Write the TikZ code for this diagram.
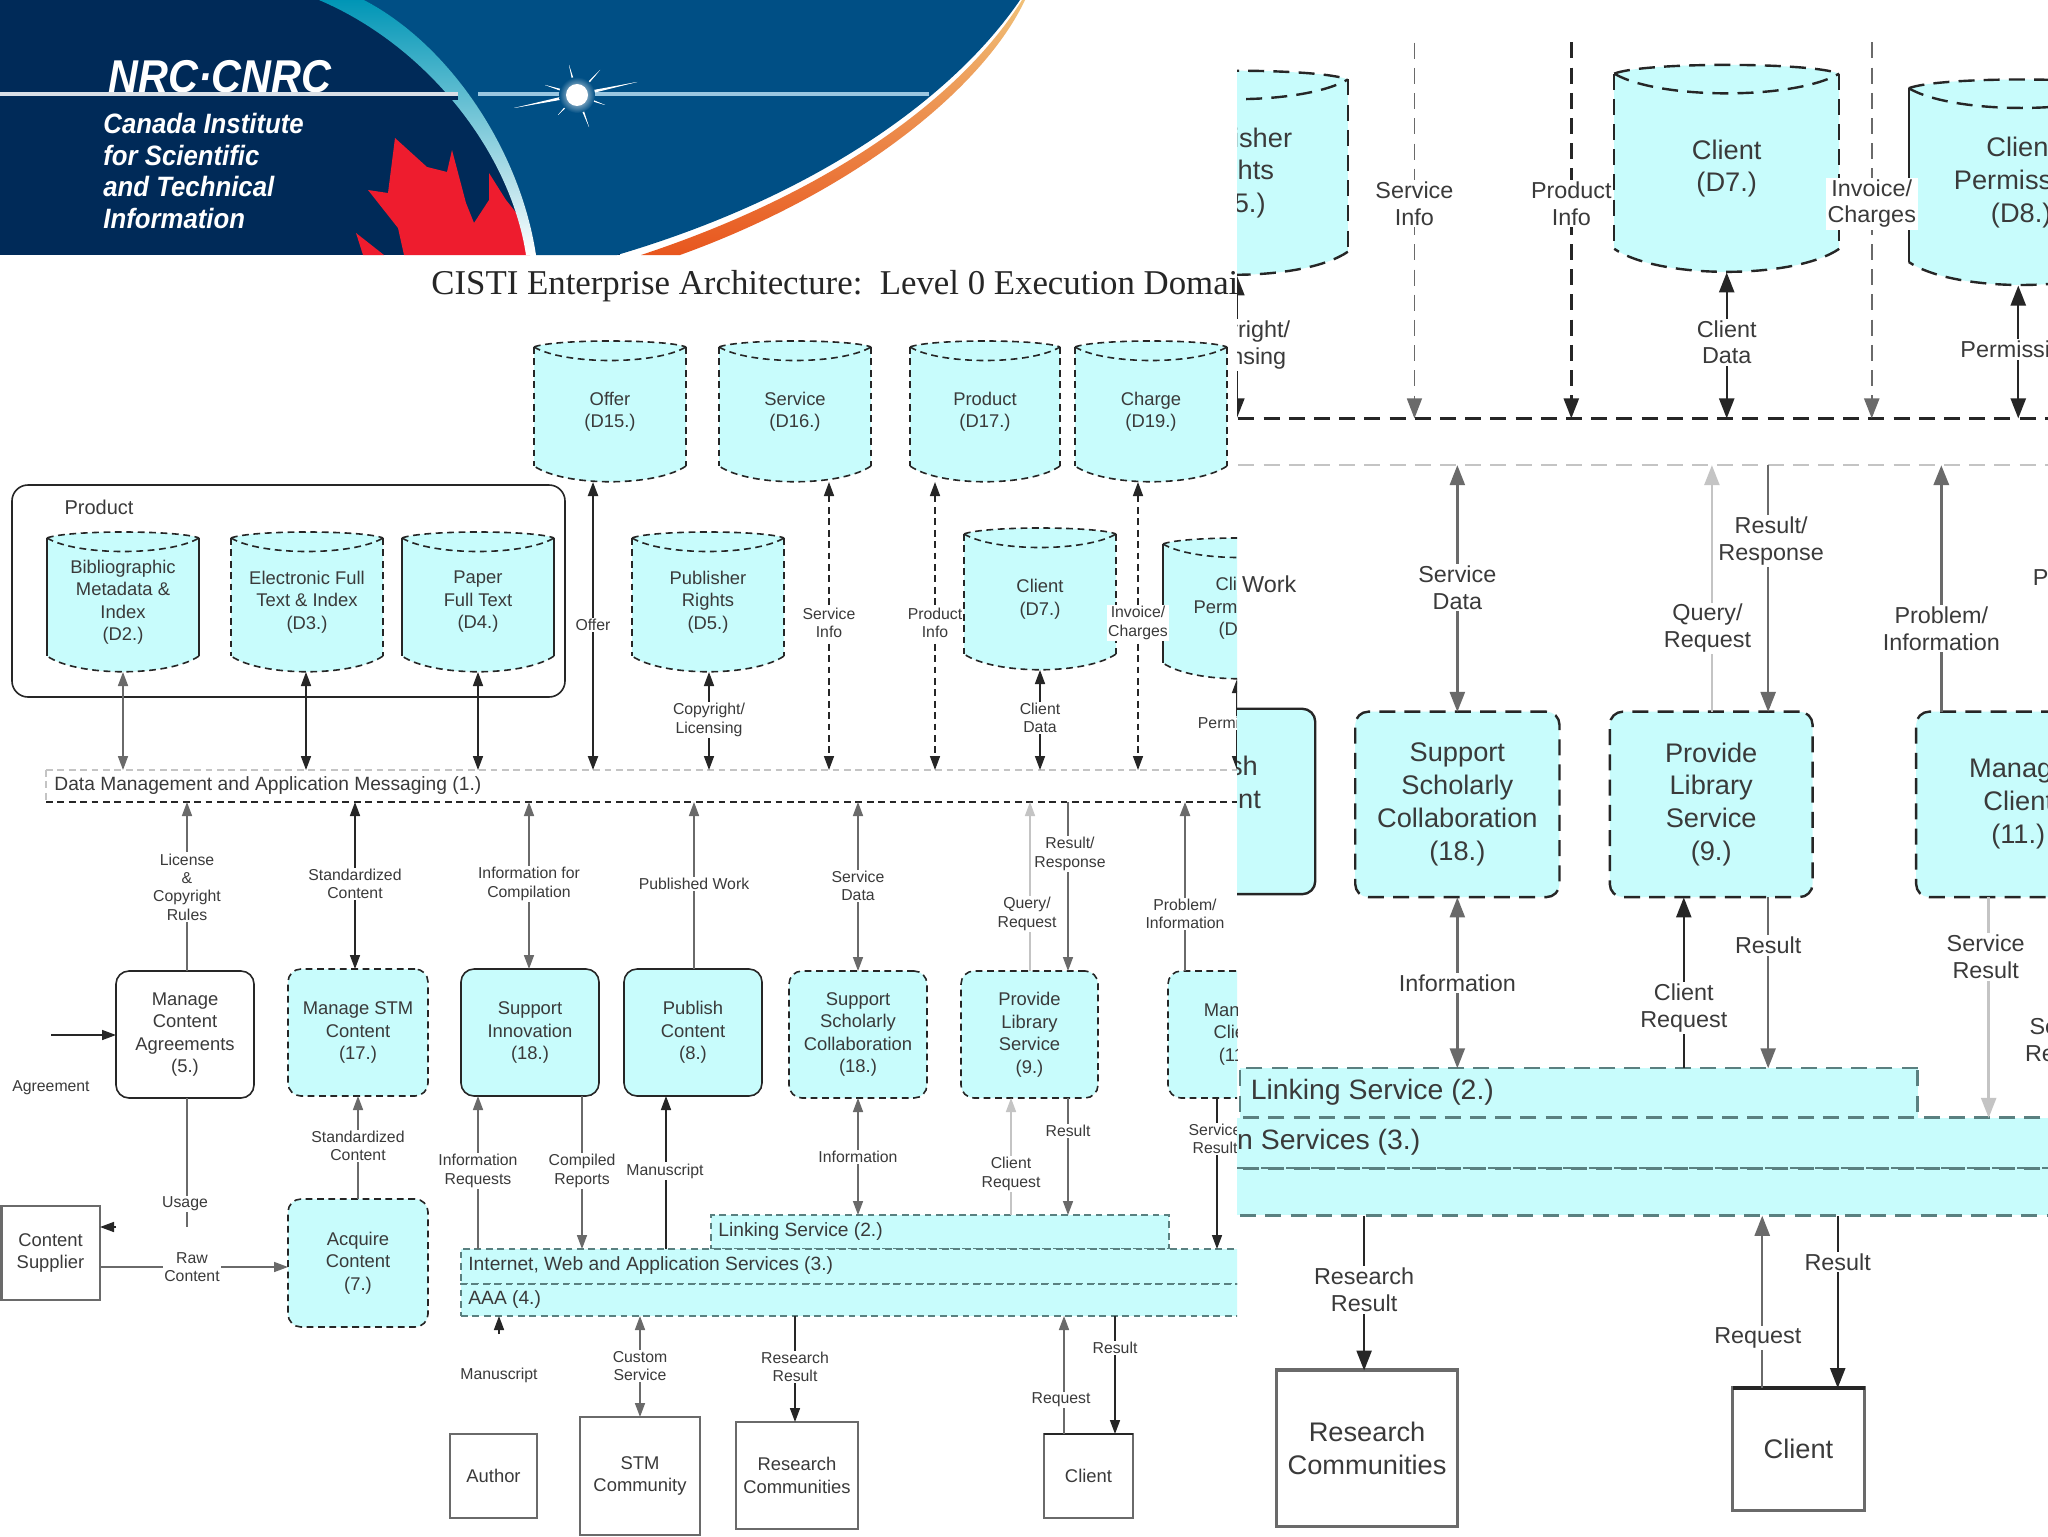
\documentclass[tikz,border=0pt]{standalone}
\usepackage{fontspec}
\usepackage{graphicx}
\setmainfont{Liberation Sans}
\newfontfamily\serifT{Liberation Serif}
\usetikzlibrary{arrows.meta,calc}
\definecolor{cy}{HTML}{C8FCFC}
\definecolor{navy}{HTML}{002A58}
\definecolor{blu}{HTML}{004F85}
\definecolor{ink}{HTML}{262626}
\definecolor{mid}{HTML}{6A6A6A}
\definecolor{pale}{HTML}{C4C4C4}
\definecolor{teal}{HTML}{5A8080}
\definecolor{txt}{HTML}{3A3A3A}
\definecolor{nrcred}{HTML}{EE1C2E}
\definecolor{orngA}{HTML}{E8561E}
\definecolor{orngB}{HTML}{F0C078}
\tikzset{
 x=0.5pt,y=-0.5pt,
 lw/.style={line width=\lwA},
 dsh/.style={dash pattern=on \dA off \dB},
 solidbox/.style={draw=ink,lw},
 dashbox/.style={draw=ink,lw,dsh},
 base/.style={inner sep=0pt,outer sep=0pt,align=center,text=txt,font=\fontsize{9.2}{11.25}\selectfont},
 proc/.style={base,rounded corners=6.5pt},
 actor/.style={base,draw=mid,lw,fill=white},
 barbox/.style={inner sep=0pt,outer sep=0pt,fill=cy},
 bartext/.style={anchor=west,inner sep=0pt,text=txt,font=\fontsize{9.6}{11.25}\selectfont},
 lab/.style={inner sep=0.6pt,outer sep=0pt,align=center,fill=white,text=txt,font=\fontsize{7.9}{9.2}\selectfont},
 dn/.style={-{Triangle[width=\aw,length=\al]},lw},
 up/.style={{Triangle[width=\aw,length=\al]}-,lw},
 both/.style={{Triangle[width=\aw,length=\al]}-{Triangle[width=\aw,length=\al]},lw},
}
% box node from pixel edges
\newcommand\boxN[7]{\node[#6,minimum width={(#3-#2)*0.5pt},minimum height={(#5-#4)*0.5pt}] (#1) at ({(#2+#3)/2},{(#4+#5)/2}) {#7};}
% cylinder: name x1 x2 y1 y2 text style of the sides
\newcommand\cylN[7]{%
 \pgfmathsetmacro\cw{#3-#2}\pgfmathsetmacro\ca{#2+.13*\cw}\pgfmathsetmacro\cb{#3-.13*\cw}%
 \pgfmathsetmacro\cc{#2+.2*\cw}\pgfmathsetmacro\cd{#3-.2*\cw}%
 \fill[cy] (#2,#4+6) .. controls (\ca,#4-2) and (\cb,#4-2) .. (#3,#4+6) -- (#3,#5-16) .. controls (\cd,#5+5) and (\cc,#5+5) .. (#2,#5-16) -- cycle;
 \draw[dashbox] (#2,#4+6) .. controls (\ca,#4-2) and (\cb,#4-2) .. (#3,#4+6);
 \draw[dashbox] (#3,#5-16) .. controls (\cd,#5+5) and (\cc,#5+5) .. (#2,#5-16);
 \draw[dashbox] (#2,#4+6) .. controls (\cc,#4+24) and (\cd,#4+24) .. (#3,#4+6);
 \draw[#7] (#2,#4+6) -- (#2,#5-16);
 \draw[#7] (#3,#4+6) -- (#3,#5-16);
 \boxN{#1}{#2}{#3}{#4}{#5}{base}{#6}}
% vertical connector at pixel x between two anchors
\newcommand\conn[4]{\draw[#1] (#2,0 |- #3) -- (#2,0 |- #4);}
\newcommand\labN[4]{\node[lab] (#1) at (#2,#3) {#4};}

\newcommand\diagramBody{%
 % product frame
 \boxN{frame}{12}{565}{485}{697}{draw=ink,lw,rounded corners=8pt}{}
 \node[anchor=center,inner sep=0pt,text=txt,font=\fontsize{10}{12}\selectfont] (frametitle) at (99,507) {Product};
 % stores
 \cylN{dtwo}{47}{199}{532}{672}{Bibliographic\\Metadata \&\\Index\\(D2.)}{solidbox}
 \cylN{dthree}{231}{383}{532}{672}{Electronic Full\\Text \& Index\\(D3.)}{dashbox}
 \cylN{dfour}{402}{554}{532}{672}{Paper\\Full Text\\(D4.)}{solidbox}
 \cylN{offer}{534}{686}{341}{482}{Offer\\(D15.)}{dashbox}
 \cylN{service}{719}{871}{341}{482}{Service\\(D16.)}{dashbox}
 \cylN{product}{910}{1060}{341}{482}{Product\\(D17.)}{dashbox}
 \cylN{charge}{1075}{1227}{341}{482}{Charge\\(D19.)}{dashbox}
 \cylN{pubrights}{632}{784}{532}{672}{Publisher\\Rights\\(D5.)}{dashbox}
 \cylN{client}{964}{1116}{528}{670}{Client\\(D7.)}{dashbox}
 \cylN{perm}{1163}{1315}{538}{679}{Client\\Permission\\(D8.)}{solidbox}
 % data bar
 \boxN{databar}{46}{1320}{770}{802}{inner sep=0pt,outer sep=0pt,fill=white}{}
 \draw[draw=\barT,lw,dsh] (databar.north west) -- (databar.north east);
 \draw[draw=\barB,lw,dsh] (databar.south west) -- (databar.south east);
 \draw[draw=pale,lw,dsh] (databar.north west) -- (databar.south west);
 \node[bartext] (datatext) at (54,786) {Data Management and Application Messaging (1.)};
 % processes
 \boxN{manageca}{116}{254}{971}{1098}{proc,draw=ink,lw,fill=white}{Manage\\Content\\Agreements\\(5.)}
 \boxN{managestm}{288}{428}{969}{1096}{proc,dashbox,fill=cy}{Manage STM\\Content\\(17.)}
 \boxN{supinnov}{461}{599}{969}{1096}{proc,solidbox,fill=cy}{Support\\Innovation\\(18.)}
 \boxN{publish}{624}{762}{969}{1096}{proc,solidbox,fill=cy}{Publish\\Content\\(8.)}
 \boxN{supschol}{789}{927}{971}{1098}{proc,dashbox,fill=cy}{Support\\Scholarly\\Collaboration\\(18.)}
 \boxN{library}{961}{1098}{971}{1098}{proc,dashbox,fill=cy}{Provide\\Library\\Service\\(9.)}
 \boxN{manageclient}{1168}{1306}{971}{1098}{proc,dashbox,fill=cy}{Manage\\Client\\(11.)}
 \boxN{acquire}{288}{428}{1199}{1327}{proc,draw=ink,lw,dsh,fill=cy}{Acquire\\Content\\(7.)}
 % service bars
 \boxN{linking}{711}{1169}{1215}{1249}{barbox,draw=teal,lw,dsh}{}
 \boxN{internet}{461}{1320}{1249}{1284}{barbox,draw=teal,lw,dsh}{}
 \boxN{aaa}{461}{1320}{1284}{1316}{barbox,draw=teal,lw,dsh}{}
 \node[bartext] (linktext) at (718,1232) {Linking Service (2.)};
 \node[bartext] (nettext) at (468,1266) {Internet, Web and Application Services (3.)};
 \node[bartext] (aaatext) at (468,1300) {AAA (4.)};
 % external actors
 \boxN{supplier}{1}{100}{1206}{1300}{actor}{Content\\Supplier}
 \draw[draw=mid,line width=1.5pt] (supplier.north west) -- (supplier.south west);
 \boxN{author}{450}{537}{1434}{1518}{actor}{Author}
 \boxN{stm}{580}{700}{1417}{1535}{actor}{STM\\Community}
 \boxN{research}{736}{858}{1422}{1529}{actor,line width=\lwB}{Research\\Communities}
 \boxN{clientbox}{1044}{1133}{1434}{1518}{actor}{Client}
 \draw[draw=ink,line width=\lwB] (clientbox.north west) -- (clientbox.north east);
 % connectors to the data bar
 \conn{both,draw=mid}{123}{dtwo.south}{databar.north}
 \conn{both,draw=ink}{306}{dthree.south}{databar.north}
 \conn{both,draw=ink}{478}{dfour.south}{databar.north}
 \conn{both,draw=ink,line width=\lwB}{593}{offer.south}{databar.north}
 \conn{both,draw=ink}{709}{pubrights.south}{databar.north}
 \conn{both,draw=\srvCol,line width=\srvLw,dsh}{829}{service.south}{databar.north}
 \conn{both,draw=ink,dsh}{935}{product.south}{databar.north}
 \conn{both,draw=ink}{1040}{client.south}{databar.north}
 \conn{both,draw=\srvCol,dsh}{1138}{charge.south}{databar.north}
 \conn{both,draw=ink}{1237}{perm.south}{databar.north}
 % from the data bar to the processes
 \conn{up,draw=mid}{187}{databar.south}{manageca.north}
 \conn{both,draw=ink}{355}{databar.south}{managestm.north}
 \conn{both,draw=mid}{529}{databar.south}{supinnov.north}
 \conn{up,draw=mid}{694}{databar.south}{publish.north}
 \conn{both,draw=mid}{858}{databar.south}{supschol.north}
 \conn{up,draw=pale}{1030}{databar.south}{library.north}
 \conn{dn,draw=mid}{1068}{databar.south}{library.north}
 \conn{up,draw=mid,line width=\lwB}{1185}{databar.south}{manageclient.north}
 % lower connectors
 \coordinate (agreeend) at (51,1035);
 \draw[dn,draw=ink] (agreeend) -- (manageca.west |- agreeend);
 \coordinate (usageend) at (187,1227);
 \draw[draw=mid,lw] (manageca.south -| usageend) -- (usageend);
 \coordinate (usagetip) at (116,1227);
 \draw[dn,draw=ink] (usagetip) -- (supplier.east |- usagetip);
 \coordinate (rawy) at (150,1267);
 \draw[dn,draw=mid] (supplier.east |- rawy) -- (acquire.west |- rawy);
 \conn{up,draw=mid}{358}{managestm.south}{acquire.north}
 \conn{up,draw=mid}{478}{supinnov.south}{internet.north}
 \conn{dn,draw=mid}{582}{supinnov.south}{internet.north}
 \conn{up,draw=ink}{666}{publish.south}{internet.north}
 \conn{both,draw=mid}{858}{supschol.south}{linking.north}
 \conn{up,draw=\crCol}{1011}{library.south}{linking.north}
 \conn{dn,draw=mid}{1068}{library.south}{linking.north}
 \conn{dn,draw=\srCol}{1217}{manageclient.south}{internet.north}
 \coordinate (mstail) at (499,1334);
 \draw[dn,draw=ink] (mstail) -- (mstail |- aaa.south);
 \conn{both,draw=mid}{640}{aaa.south}{stm.north}
 \conn{dn,draw=ink}{795}{aaa.south}{research.north}
 \conn{up,draw=mid}{1064}{aaa.south}{clientbox.north}
 \conn{dn,draw=ink}{1115}{aaa.south}{clientbox.north}
 % connector labels
 \labN{lcopy}{709}{720}{Copyright/\\Licensing}
 \labN{lservi}{829}{623}{Service\\Info}
 \labN{lprodi}{935}{623}{Product\\Info}
 \labN{loffer}{593}{625}{Offer}
 \labN{lcdata}{1040}{718}{Client\\Data}
 \labN{lcharge}{1138}{623}{Invoice/\\Charges}
 \labN{lperm}{1237}{723}{Permission}
 \labN{llic}{187}{887}{License\\\&\\Copyright\\Rules}
 \labN{lstd}{355}{884}{Standardized\\Content}
 \labN{lcomp}{529}{884}{Information for\\Compilation}
 \labN{lpub}{694}{884}{Published Work}
 \labN{lsd}{858}{886}{Service\\Data}
 \labN{lqr}{1027}{914}{Query/\\Request}
 \labN{lrr}{1070}{854}{Result/\\Response}
 \labN{lprob}{1185}{914}{Problem/\\Information}
 \labN{lprod}{1274}{879}{Product}
 \labN{lagree}{51}{1088}{Agreement}
 \labN{lusage}{185}{1204}{Usage}
 \labN{lraw}{192}{1267}{Raw\\Content}
 \labN{lstd2}{358}{1146}{Standardized\\Content}
 \labN{lireq}{478}{1171}{Information\\Requests}
 \labN{lcomprep}{582}{1171}{Compiled\\Reports}
 \labN{lman}{665}{1171}{Manuscript}
 \labN{linfo}{858}{1157}{Information}
 \labN{lcreq}{1011}{1174}{Client\\Request}
 \labN{lres}{1068}{1131}{Result}
 \labN{lsr}{1215}{1139}{Service\\Result}
 \labN{lsq}{1271}{1197}{Service\\Request}
 \labN{lms}{499}{1375}{Manuscript}
 \labN{lcust}{640}{1366}{Custom\\Service}
 \labN{lrr2}{795}{1367}{Research\\Result}
 \labN{lrq}{1061}{1400}{Request}
 \labN{lres2}{1115}{1348}{Result}
}

\begin{document}
\begin{tikzpicture}
\useasboundingbox (0,0) rectangle (2048,1536);
\fill[white] (0,0) rectangle (2048,1536);
% ---- banner ----
\begin{scope}
 \clip (0,0) rectangle (1240,255);
 \fill[navy] (0,0) rectangle (620,255);
 % blue field
 \fill[blu] (364,0) -- (1020,0) .. controls (955,95) and (820,195) .. (617,255) -- (536,255) .. controls (520,150) and (450,45) .. (364,0) -- cycle;
 % orange sweep
 \shade[top color=orngB,bottom color=orngA] (1025,0) .. controls (985,85) and (860,190) .. (680,255) -- (641,255) .. controls (838,190) and (965,92) .. (1022,0) -- cycle;
 % maple leaf
 \fill[nrcred] (395,138) -- (427,167) -- (447,172) -- (452,150) -- (466,203) -- (474,223) -- (489,200) -- (489,173) -- (506,200) -- (530,230) -- (530,255) -- (404,255) -- (398,228) -- (368,190) -- (388,193) -- cycle;
 \fill[nrcred] (356,233) -- (384,255) -- (363,255) -- cycle;
 % curved band
 \shade[top color=blu!60!cyan,middle color=white,bottom color=white] (319,0) .. controls (425,45) and (510,150) .. (526,255) -- (536,255) .. controls (520,150) and (450,45) .. (364,0) -- cycle;
 % logotype
 \node[inner sep=0pt,text=white,font=\fontsize{23}{23}\bfseries\itshape\selectfont] (logo) at (220,77) {\scalebox{.9}[1]{NRC\textperiodcentered CNRC}};
 \fill[navy] (0,96) rectangle (458,100);
 % horizon line
 \fill[white!85!navy] (0,92) rectangle (458,96);
 \fill[white!70!cyan!80!blu] (478,92) rectangle (929,96);
 % star
 \foreach \ex/\ey in {569/65,589/127,514/108,637/82,545/85,600/70,605/105,558/115}{
   \fill[white] (577,93) -- (\ex,\ey) -- (577,97) -- cycle;
   \fill[white] (575,95) -- (\ex,\ey) -- (579,95) -- cycle;}
 \shade[inner color=white,outer color=blu] (577,95) circle[radius=9pt];
 \fill[white] (577,95) circle[radius=5.5pt];
 % name lines
 \foreach \nm/\ly/\tx in {namea/123/Canada Institute,nameb/155/for Scientific,namec/186/and Technical,named/218/Information}{
   \node[anchor=west,inner sep=0pt,text=white,font=\fontsize{14}{14}\bfseries\itshape\selectfont] (\nm) at (103,\ly) {\scalebox{.92}[1]{\tx}};}
\end{scope}
% ---- left panel ----
\begin{scope}
 \clip (0,256) rectangle (1237,1536);
 \node[anchor=west,inner sep=0pt,text=black!85,font=\serifT\fontsize{17.4}{18}\selectfont] (title) at (431,286) {CISTI Enterprise Architecture:\ \ Level 0 Execution Domain};
 \def\lwA{0.8pt}\def\lwB{1.1pt}\def\dA{3.4pt}\def\dB{2.3pt}\def\aw{5pt}\def\al{7pt}
 \def\barT{pale}\def\barB{ink}\def\srCol{ink}\def\crCol{pale}\def\srvCol{ink}\def\srvLw{0.8pt}
 \begin{scope}[every node/.append style={transform shape}]
  \diagramBody
 \end{scope}
\end{scope}
% ---- right panel, enlarged view ----
\begin{scope}
 \clip (1237,36) rectangle (2048,1536);
 \def\lwA{1.2pt}\def\lwB{1.7pt}\def\dA{8pt}\def\dB{4.6pt}\def\aw{7.5pt}\def\al{10pt}
 \def\barT{ink}\def\barB{pale}\def\srCol{pale}\def\crCol{ink}\def\srvCol{mid}\def\srvLw{0.7pt}
 \begin{scope}[shift={(187.5,-706)},xscale=1.48,yscale=1.46,every node/.append style={transform shape}]
  \diagramBody
 \end{scope}
\end{scope}
\end{tikzpicture}
\end{document}
